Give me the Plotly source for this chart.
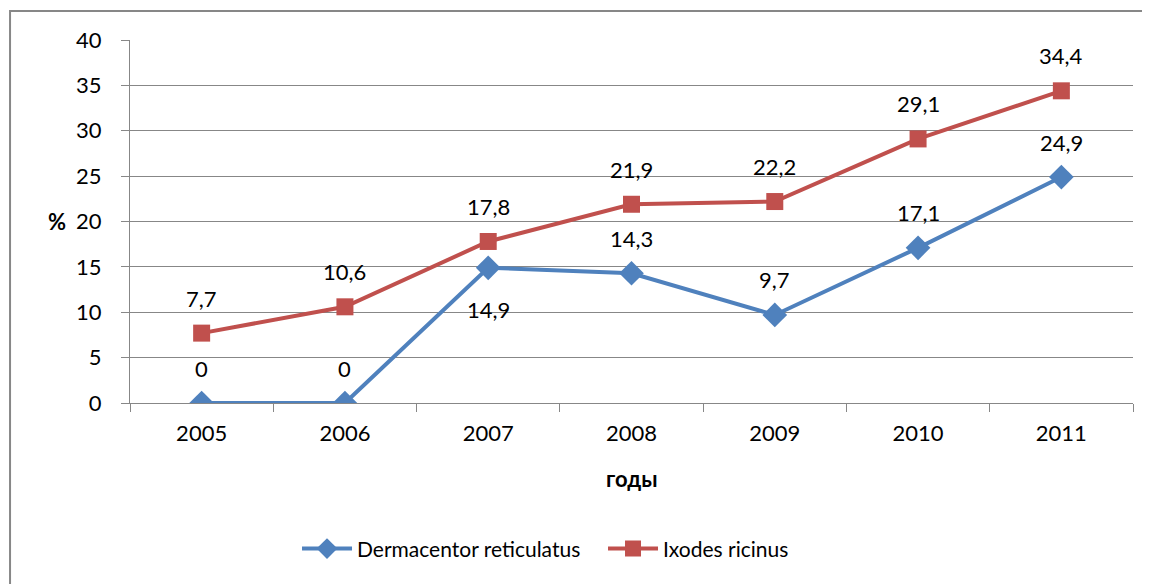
import plotly.graph_objects as go

years = ['2005', '2006', '2007', '2008', '2009', '2010', '2011']
dermacentor = [0, 0, 14.9, 14.3, 9.7, 17.1, 24.9]
ixodes = [7.7, 10.6, 17.8, 21.9, 22.2, 29.1, 34.4]
# where the data label goes for each point: 1 above, -1 below
derma_label_side = [1, 1, -1, 1, 1, 1, 1]

FONT = 'Lato'
GRID = '#878787'
BLUE = '#4F81BD'
RED = '#C0504D'
FS = 22


def fmt(v):
    return ('%g' % v).replace('.', ',')


fig = go.Figure()

fig.add_trace(go.Scatter(
    name='Dermacentor reticulatus',
    x=years, y=dermacentor,
    mode='lines+markers',
    line=dict(color=BLUE, width=4),
    marker=dict(symbol='diamond', size=19, color=BLUE)))

fig.add_trace(go.Scatter(
    name='Ixodes ricinus',
    x=years, y=ixodes,
    mode='lines+markers',
    line=dict(color=RED, width=4),
    marker=dict(symbol='square', size=17, color=RED)))

annotations = []
# category axis: annotation x given as the category index
for i, (v, side) in enumerate(zip(dermacentor, derma_label_side)):
    annotations.append(dict(x=i, y=v, text=fmt(v), showarrow=False,
                            yshift=35 if side > 0 else -42,
                            font=dict(family=FONT, size=FS, color='black')))
for i, v in enumerate(ixodes):
    annotations.append(dict(x=i, y=v, text=fmt(v), showarrow=False, yshift=35,
                            font=dict(family=FONT, size=FS, color='black')))

annotations.append(dict(text='<b>%</b>', xref='paper', yref='paper', x=-0.073, y=0.499,
                        xanchor='center', yanchor='middle',
                        showarrow=False, font=dict(family=FONT, size=FS, color='black')))
annotations.append(dict(text='<b>годы</b>', xref='paper', yref='paper', x=0.5, y=-0.207,
                        xanchor='center', yanchor='middle',
                        showarrow=False, font=dict(family=FONT, size=FS, color='black')))

fig.update_layout(
    width=1142, height=576,
    margin=dict(l=122, r=17, t=32, b=181),
    plot_bgcolor='white', paper_bgcolor='white',
    font=dict(family=FONT, size=FS, color='black'),
    showlegend=True,
    legend=dict(orientation='h', x=0.4716, xanchor='center', y=-0.402, yanchor='middle',
                font=dict(family=FONT, size=21, color='black'), itemwidth=50,
                entrywidth=241, entrywidthmode='pixels', tracegroupgap=0),
    annotations=annotations,
    shapes=[dict(type='rect', xref='paper', yref='paper',
                 x0=-0.1196, x1=1.2, y0=-0.7, y1=1.0799,
                 line=dict(color=GRID, width=2), fillcolor='rgba(0,0,0,0)', layer='below')],
    xaxis=dict(type='category', range=[-0.5, 6.5], tickson='boundaries',
               ticks='outside', ticklen=8, tickcolor=GRID, tickwidth=1,
               showline=True, linecolor=GRID, linewidth=1, showgrid=False,
               ticklabelstandoff=11, zeroline=False),
    yaxis=dict(range=[0, 40], dtick=5, ticks='outside', ticklen=8, tickcolor=GRID,
               showline=True, linecolor=GRID, linewidth=1,
               showgrid=True, gridcolor=GRID, gridwidth=1,
               ticklabelstandoff=15, zeroline=False),
)

fig.write_html('out.html')
